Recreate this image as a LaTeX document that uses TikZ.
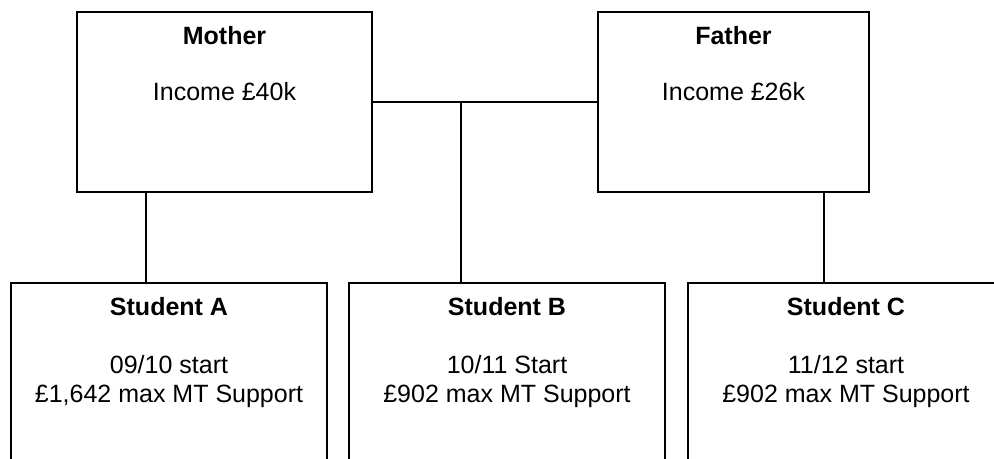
\documentclass[tikz,border=0pt]{standalone}
\usepackage{fontspec}
\setmainfont{Liberation Sans}
\usetikzlibrary{calc}

\begin{document}
\begin{tikzpicture}[
    x=0.5pt, y=-0.5pt,
    line width=1pt,
    parent/.style={draw,rectangle,outer sep=0pt,inner sep=0pt,minimum height=90pt},
    student/.style={draw,rectangle,outer sep=0pt,inner sep=0pt,minimum width=158pt,minimum height=98.5pt},
    head/.style={font=\fontsize{12.5pt}{14.5pt}\selectfont\bfseries,inner sep=0pt,anchor=base},
    info/.style={font=\fontsize{12.5pt}{14.5pt}\selectfont,inner sep=0pt,anchor=base},
  ]
  \path[use as bounding box] (0,0) rectangle (994,459);
  \clip (0,0) rectangle (994,459);

  % Parents
  \node[parent,minimum width=147.5pt] (mother) at (224.5,102) {};
  \node[head] (mothertitle) at ([yshift=-16.5pt]mother.north) {Mother};
  \node[info] (motherinc) at ([yshift=-44.5pt]mother.north) {Income £40k};

  \node[parent,minimum width=135.5pt] (father) at (733.5,102) {};
  \node[head] (fathertitle) at ([yshift=-16.5pt]father.north) {Father};
  \node[info] (fatherinc) at ([yshift=-44.5pt]father.north) {Income £26k};

  % Students
  \node[student] (sa) at (169,381.5) {};
  \node[head] (satitle) at ([yshift=-16pt]sa.north) {Student A};
  \node[info] (sastart) at ([yshift=-45pt]sa.north) {09/10 start};
  \node[info] (samax) at ([yshift=-59.5pt]sa.north) {£1,642 max MT Support};

  \node[student] (sb) at (507,381.5) {};
  \node[head] (sbtitle) at ([yshift=-16pt]sb.north) {Student B};
  \node[info] (sbstart) at ([yshift=-45pt]sb.north) {10/11 Start};
  \node[info] (sbmax) at ([yshift=-59.5pt]sb.north) {£902 max MT Support};

  \node[student] (sc) at (846,381.5) {};
  \node[head] (sctitle) at ([yshift=-16pt]sc.north) {Student C};
  \node[info] (scstart) at ([yshift=-45pt]sc.north) {11/12 start};
  \node[info] (scmax) at ([yshift=-59.5pt]sc.north) {£902 max MT Support};

  % Links
  \draw (mother.east) -- (father.west);
  \coordinate (mid) at ($(mother.east)!0.394!(father.west)$);
  \draw (mid) -- (mid |- sb.north);
  \coordinate (mdrop) at ([xshift=-39.25pt]mother.south);
  \draw (mdrop) -- (mdrop |- sa.north);
  \coordinate (fdrop) at ([xshift=45.25pt]father.south);
  \draw (fdrop) -- (fdrop |- sc.north);
\end{tikzpicture}
\end{document}
